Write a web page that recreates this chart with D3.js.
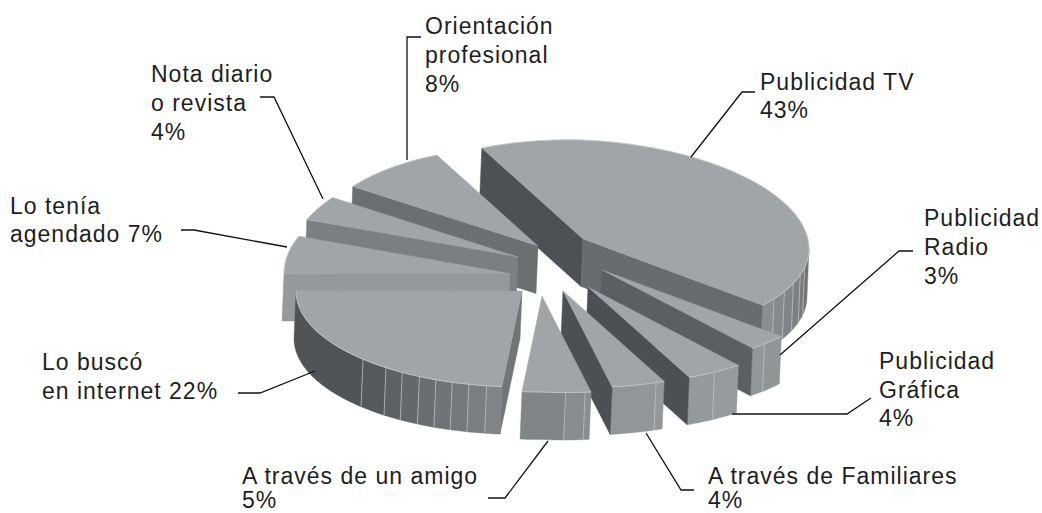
<!DOCTYPE html>
<html><head><meta charset="utf-8">
<script src="https://cdn.jsdelivr.net/npm/d3@7"></script>
<style>html,body{margin:0;background:#fff}svg{display:block}text{font-family:"Liberation Sans",Arial,sans-serif;font-size:23px;fill:#1e1e1e;letter-spacing:1px}</style>
</head><body><div id="c"></div>
<script>
// --- data ---
const categories = ["Publicidad TV","Publicidad Radio","Publicidad Gráfica","A través de Familiares","A través de un amigo","Lo buscó en internet","Lo tenía agendado","Nota diario o revista","Orientación profesional"];
const printedPct = [43,3,4,4,5,22,7,4,8];
// shares as actually drawn (measured slice sweep, %)
const drawnShare = [42.8,3.0,4.2,3.9,4.9,23.6,5.8,3.9,7.9];

// --- layout ---
const W=1042,H=513, RX=226, DEPTH_X=-2, DEPTH_Y=47.5;
const apexes=[[583,239],[602,270],[588,287],[563,291],[542,296],[522,291],[510,273.5],[518,257],[538,246]];
const drawOrder=[0,8,7,6,5,1,2,3,4];
const topFill="#a0a5a8";
const startFace=["#4d5054",null,null,null,null,"#70757a","#95999c","#7a7f82","#6a6f72"];
const endFace=["#676c6f","#5b5f62","#4c4f53","#4c4f53",null,null,null,null,null];
const wallFrom=["#8c9194","#8e9396","#979c9f","#93989b","#8a8f92","#82878a","#55595c","#777","#777"];
const wallTo=["#6c7073","#93989b","#93989b","#8f9497","#7c8184","#505457","#505457","#777","#777"];
const wallFadeEnd=[135,0,0,0,0,225,0,0,0];
const seams=[[122.3,117,111.4,106,101.3],[134],[146],[155.7],[174,169],[189,193.6,198,202.4,207,212,217,224.7],[],[],[]];

const svg=d3.select("#c").append("svg").attr("width",W).attr("height",H);
const pie=d3.pie().sort(null).value(d=>d).startAngle(-26.6*Math.PI/180).endAngle((360-26.6)*Math.PI/180);
const arcs=pie(drawnShare);
const xS=d3.scaleLinear().domain([-1,1]).range([-RX,RX]);
const yFront=d3.scaleLinear().domain([0,1]).range([0,96]);
const yBack=d3.scaleLinear().domain([-1,0]).range([105,99]);
const tilt=d3.scaleLinear().domain([0,1]).range([0,10]).clamp(true);
const rim=(i,a)=>{const X=Math.sin(a),Y=-Math.cos(a);
  const dy=Y>=0?yFront(Y):Y*(X<0?yBack(X):99);
  return [apexes[i][0]+xS(X), apexes[i][1]+dy+tilt(X)];};
const low=p=>[p[0]+DEPTH_X,p[1]+DEPTH_Y];
const line=d3.line();
const rimPts=(i,a0,a1)=>{const n=Math.max(2,Math.ceil(Math.abs(a1-a0)/0.02));return d3.range(n+1).map(k=>rim(i,a0+(a1-a0)*k/n));};
const rad=d=>d*Math.PI/180;

function face(g,i,a,fill){
  const A=apexes[i],R=rim(i,a);
  g.append("path").attr("d",line([A,R,low(R),low(A)])+"Z").attr("fill",fill).attr("stroke",fill).attr("stroke-width",.5);
}
drawOrder.forEach(i=>{
  const d=arcs[i],g=svg.append("g").attr("class","slice").datum(categories[i]);
  if(startFace[i]&&Math.cos(d.startAngle-Math.PI/2)<0.01) face(g,i,d.startAngle,startFace[i]);
  const a0=Math.max(d.startAngle,Math.PI/2), a1=Math.min(d.endAngle,3*Math.PI/2);
  if(a1>a0){
    const fadeEnd=wallFadeEnd[i]?rad(wallFadeEnd[i]):a1;
    const shade=d3.scaleLinear().domain([a0,fadeEnd]).range([wallFrom[i],wallTo[i]]).clamp(true);
    const cuts=[a0,...seams[i].map(rad).filter(s=>s>a0&&s<a1).sort((p,q)=>p-q),a1];
    d3.pairs(cuts).forEach(([u,v])=>{
      const top=rimPts(i,u,v);
      const f=i===0?d3.scaleLinear().domain([a1,a0]).range([wallFrom[i],wallTo[i]])((u+v)/2):shade((u+v)/2);
      g.append("path").attr("d",line(top.concat(top.map(low).reverse()))+"Z").attr("fill",f).attr("stroke",f).attr("stroke-width",.4);
    });
    cuts.slice(1,-1).forEach(s=>{const p=rim(i,s);
      g.append("path").attr("d",line([p,low(p)])).attr("stroke","#b9bdbf").attr("stroke-width",.8).attr("fill","none");});
  }
  if(endFace[i]&&Math.cos(d.endAngle-Math.PI/2)>-0.01) face(g,i,d.endAngle,endFace[i]);
  const pts=rimPts(i,d.startAngle,d.endAngle);
  g.append("path").attr("d",line([apexes[i],...pts])+"Z").attr("fill",topFill).attr("stroke",topFill).attr("stroke-width",.4);
  g.append("path").attr("d",line(pts)).attr("fill","none").attr("stroke","#c8cccd").attr("stroke-width",.8);
});

// --- leaders and labels ---
const leaders=[
 [[691,157],[742,92],[755,92]],
 [[780,355],[899,251],[913,251]],
 [[732,414],[847,414],[871,398]],
 [[646,433],[681,490],[694,490]],
 [[548,441],[505,498],[488,498]],
 [[315,371],[260,393],[238,393]],
 [[287,247],[194,230],[181,230]],
 [[323,199],[274,97],[260,97]],
 [[407,160],[407,37],[421,37]]];
leaders.forEach(l=>svg.append("path").attr("d",line(l)).attr("fill","none").attr("stroke","#111").attr("stroke-width",1.3));
const labels=[
 {x:760,y:[90,118],t:["Publicidad TV","43%"]},
 {x:924,y:[226,255,284],t:["Publicidad","Radio","3%"]},
 {x:879,y:[369,398,426],t:["Publicidad","Gráfica","4%"]},
 {x:708,y:[484,508],t:["A través de Familiares","4%"]},
 {x:242,y:[484,508],t:["A través de un amigo","5%"]},
 {x:42,y:[370,399],t:["Lo buscó","en internet 22%"]},
 {x:10,y:[214,242],t:["Lo tenía","agendado 7%"]},
 {x:151,y:[82,111,140],t:["Nota diario","o revista","4%"]},
 {x:425,y:[34,63,92],t:["Orientación","profesional","8%"]}];
labels.forEach(l=>l.t.forEach((s,k)=>svg.append("text").attr("x",l.x).attr("y",l.y[k]).text(s)));
</script></body></html>
